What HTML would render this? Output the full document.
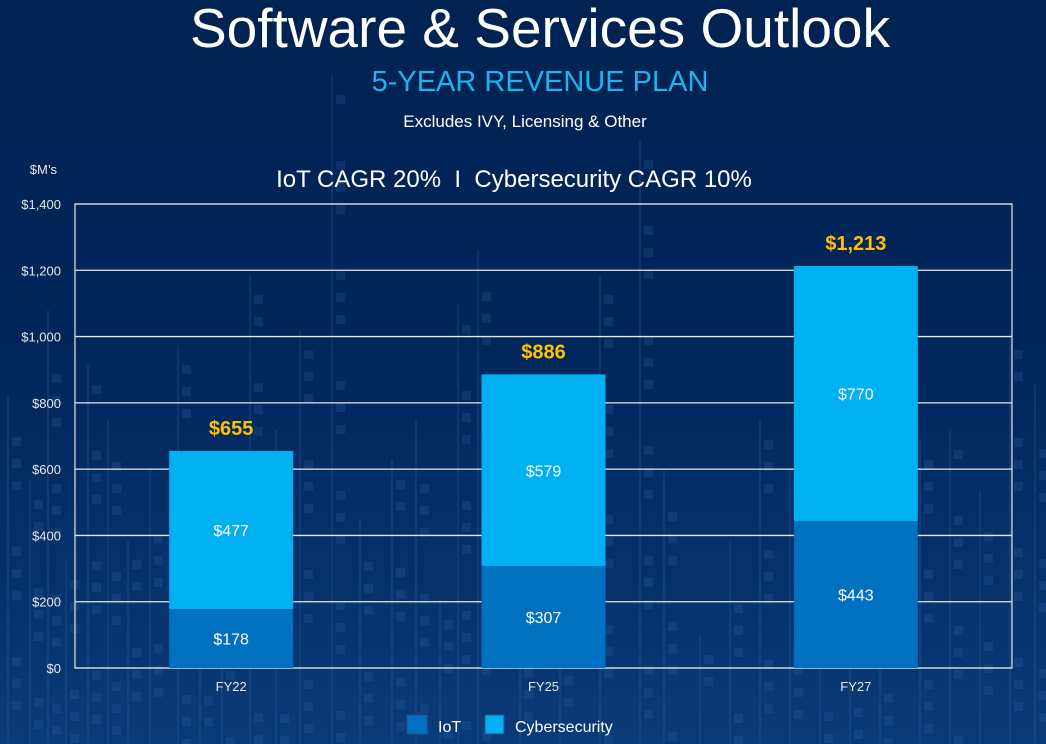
<!DOCTYPE html>
<html><head><meta charset="utf-8"><style>
html,body{margin:0;padding:0;width:1046px;height:744px;overflow:hidden;background:#01234f;}
svg{display:block;font-family:"Liberation Sans",sans-serif;}
text{white-space:pre;}
</style></head><body>
<svg id="chart" width="1046" height="744" viewBox="0 0 1046 744">
<defs>
<linearGradient id="bg" x1="0" y1="0" x2="0" y2="1">
<stop offset="0" stop-color="#012352"/><stop offset="0.45" stop-color="#01265a"/><stop offset="1" stop-color="#0a3a78"/>
</linearGradient>
</defs>
<rect width="1046" height="744" fill="url(#bg)"/>
<g id="deco" opacity="0.25"></g>
<text x="540" y="47" text-anchor="middle" font-size="55" fill="#fff">Software &amp; Services Outlook</text>
<text x="540" y="91" text-anchor="middle" font-size="29" fill="#1fb3ee">5-YEAR REVENUE PLAN</text>
<text x="525" y="127" text-anchor="middle" font-size="17" fill="#fff">Excludes IVY, Licensing &amp; Other</text>
<text x="514" y="187" text-anchor="middle" font-size="24" fill="#fff" xml:space="preserve">IoT CAGR 20%  I  Cybersecurity CAGR 10%</text>
<text x="57" y="174" text-anchor="end" font-size="13" fill="#e8e8e8">$M’s</text>
<g id="plot"></g>
<g>
<rect x="407" y="715" width="20" height="19" fill="#0070c0" stroke="#2a4f8a"/>
<text x="438" y="732" font-size="16" fill="#fff">IoT</text>
<rect x="485" y="715" width="19" height="19" fill="#00b0f0" stroke="#2a4f8a"/>
<text x="515" y="732" font-size="16" fill="#fff">Cybersecurity</text>
</g>
</svg>
<script>
const categories = ["FY22","FY25","FY27"];
const iot = [178,307,443];
const cyber = [477,579,770];
const totals = ["$655","$886","$1,213"];
const ticks = [0,200,400,600,800,1000,1200,1400];
const tickLabels = ["$0","$200","$400","$600","$800","$1,000","$1,200","$1,400"];

const NS="http://www.w3.org/2000/svg";
const x0=75,x1=1012,y0=668,yTop=204,maxV=1400;
const y=v=>y0-(v/maxV)*(y0-yTop);
const bandW=(x1-x0)/categories.length;
const xc=i=>x0+bandW*(i+0.5);
const bw=124;
const plot=document.getElementById('plot');
function mk(tag,attrs,txt){const e=document.createElementNS(NS,tag);for(const k in attrs)e.setAttribute(k,attrs[k]);if(txt!==undefined)e.textContent=txt;plot.appendChild(e);return e;}

const deco=document.getElementById('deco');
const dx=[8,30,48,66,88,108,128,150,178,200,222,250,276,300,332,360,392,416,440,458,478,520,560,600,640,664,700,730,760,790,820,850,880,920,950,980,1010,1035];
const dtop=[395,480,310,560,365,420,540,470,345,500,585,275,430,330,75,520,460,420,600,305,250,560,480,275,140,470,635,540,420,470,560,600,520,440,430,490,330,385];
dx.forEach((xx,i)=>{const l=document.createElementNS(NS,'line');l.setAttribute('x1',xx);l.setAttribute('x2',xx);l.setAttribute('y1',dtop[i]);l.setAttribute('y2',744);l.setAttribute('stroke','#3d72b8');l.setAttribute('stroke-width','1.5');


deco.appendChild(l);
for(let yy=dtop[i]+20;yy<740;yy+=22){if((yy*7+i*13)%5<2)continue;const r=document.createElementNS(NS,'rect');r.setAttribute('x',xx+4);r.setAttribute('y',yy);r.setAttribute('width',9);r.setAttribute('height',9);r.setAttribute('fill','#2f62a8');


deco.appendChild(r);}
});

ticks.forEach((t,i)=>{
  const g=mk('line',{x1:x0,x2:x1,y1:y(t),y2:y(t),stroke:'#e6e6e6','stroke-width':1.3});
  
  
  const tl=mk('text',{x:61,y:y(t)+5,'text-anchor':'end','font-size':13,fill:'#e8e8e8'},tickLabels[i]);
  
  
});
const fr=mk('rect',{x:x0,y:yTop,width:x1-x0,height:y0-yTop,fill:'none',stroke:'#d8d8d8','stroke-width':1.3});



categories.forEach((c,i)=>{
  const cx=xc(i);
  const b1=mk('rect',{x:cx-bw/2,y:y(iot[i]),width:bw,height:y0-y(iot[i]),fill:'#0070c0'});
  
  
  const top=iot[i]+cyber[i];
  const b2=mk('rect',{x:cx-bw/2,y:y(top),width:bw,height:y(iot[i])-y(top),fill:'#00b0f0'});
  
  
  const l1=mk('text',{x:cx,y:(y(iot[i])+y0)/2+6,'text-anchor':'middle','font-size':16,fill:'#fff'},'$'+iot[i]);
  
  
  const l2=mk('text',{x:cx,y:(y(top)+y(iot[i]))/2+6,'text-anchor':'middle','font-size':16,fill:'#fff'},'$'+cyber[i]);
  
  
  const lt=mk('text',{x:cx,y:y(top)-16,'text-anchor':'middle','font-size':20,'font-weight':'bold',fill:'#ffc000'},totals[i]);
  
  
  const xl=mk('text',{x:cx,y:691,'text-anchor':'middle','font-size':13,fill:'#e8e8e8'},c);
  
  
});
</script>
</body></html>
